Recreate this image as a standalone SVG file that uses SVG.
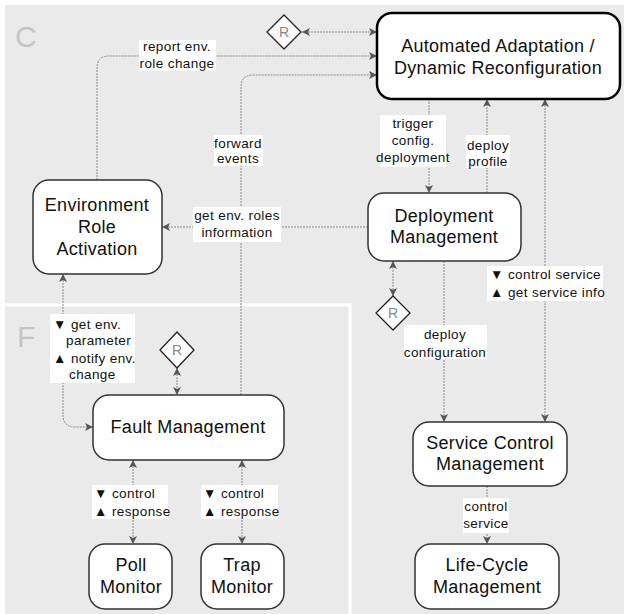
<svg xmlns="http://www.w3.org/2000/svg" width="624" height="614" viewBox="0 0 624 614">
<style>
.node rect{fill:#fff;stroke:#333;stroke-width:1.5}
.node text{font-family:"Liberation Sans",Arial,sans-serif;font-size:18px;fill:#111;text-anchor:middle;letter-spacing:0.3px}
.dia polygon{fill:#fff;stroke:#222;stroke-width:1.3}
.dia text{font-family:"Liberation Sans",Arial,sans-serif;font-size:14px;fill:#888;text-anchor:middle}
.conn path{fill:none;stroke:#8a8a8a;stroke-width:1;stroke-dasharray:2 1}
.lbl rect{fill:#fff}
.lbl text{font-family:"Liberation Sans",Arial,sans-serif;font-size:13.5px;fill:#111;letter-spacing:0.4px}
.c{text-anchor:middle}
.zone{font-family:"Liberation Sans",Arial,sans-serif;font-size:30px;fill:#c4c4c4}
</style>
<defs>
<marker id="ah" markerWidth="9" markerHeight="9" refX="8" refY="4" orient="auto-start-reverse" markerUnits="userSpaceOnUse">
<path d="M0,0 L8,4 L0,8 L2,4 z" fill="#555"/>
</marker>
</defs>
<rect x="5" y="5" width="619" height="609" fill="#eaeaea"/>
<path d="M5,305 H350 V614" fill="none" stroke="#fff" stroke-width="3"/>
<text class="zone" x="15" y="47">C</text>
<text class="zone" x="17" y="347">F</text>

<g id="connectors" class="conn">
<path d="M302,32 H377" marker-start="url(#ah)" marker-end="url(#ah)"/>
<path d="M97,180 V68 Q97,56 109,56 H377" marker-end="url(#ah)"/>
<path d="M241,395 V87 Q241,75 253,75 H377" marker-end="url(#ah)"/>
<path d="M429,99 V193" marker-end="url(#ah)"/>
<path d="M487,193 V99" marker-end="url(#ah)"/>
<path d="M545,99 V422" marker-start="url(#ah)" marker-end="url(#ah)"/>
<path d="M368,227 H162" marker-end="url(#ah)"/>
<path d="M393,261 V296" marker-start="url(#ah)" marker-end="url(#ah)"/>
<path d="M444,261 V422" marker-end="url(#ah)"/>
<path d="M487,486 V544" marker-end="url(#ah)"/>
<path d="M63,274 V415 Q63,427 75,427 H93" marker-start="url(#ah)" marker-end="url(#ah)"/>
<path d="M177,368 V395" marker-start="url(#ah)" marker-end="url(#ah)"/>
<path d="M133,460 V544" marker-start="url(#ah)" marker-end="url(#ah)"/>
<path d="M242,460 V544" marker-start="url(#ah)" marker-end="url(#ah)"/>
</g>

<g id="labels" class="lbl">
<rect x="139" y="40" width="77" height="31"/>
<text class="c" x="177" y="51">report env.</text>
<text class="c" x="177" y="68">role change</text>
<rect x="214" y="135" width="49" height="31"/>
<text class="c" x="238" y="148">forward</text>
<text class="c" x="238" y="163">events</text>
<rect x="380" y="115" width="66" height="52"/>
<text class="c" x="413" y="128">trigger</text>
<text class="c" x="413" y="145">config.</text>
<text class="c" x="413" y="162">deployment</text>
<rect x="466" y="135" width="44" height="33"/>
<text class="c" x="488" y="150">deploy</text>
<text class="c" x="488" y="166">profile</text>
<rect x="193" y="207" width="88" height="35"/>
<text class="c" x="237" y="220">get env. roles</text>
<text class="c" x="237" y="237">information</text>
<rect x="487" y="266" width="116" height="35"/>
<text x="490" y="279">▼ control service</text>
<text x="490" y="297">▲ get service info</text>
<rect x="404" y="325" width="83" height="34"/>
<text class="c" x="445" y="339">deploy</text>
<text class="c" x="445" y="357">configuration</text>
<rect x="50" y="314" width="85" height="69"/>
<text x="53" y="329">▼ get env.</text>
<text x="66" y="345">parameter</text>
<text x="53" y="363">▲ notify env.</text>
<text x="69" y="379">change</text>
<rect x="463" y="498" width="46" height="35"/>
<text class="c" x="486" y="511">control</text>
<text class="c" x="486" y="528">service</text>
<rect x="92" y="485" width="76" height="34"/>
<text x="94" y="498">▼ control</text>
<text x="94" y="516">▲ response</text>
<rect x="201" y="485" width="77" height="34"/>
<text x="203" y="498">▼ control</text>
<text x="203" y="516">▲ response</text>
</g>

<g id="aa" class="node">
<rect x="377" y="13" width="243" height="86" rx="15" style="stroke:#000;stroke-width:2.5"/>
<text x="498" y="52">Automated Adaptation /</text>
<text x="498" y="74">Dynamic Reconfiguration</text>
</g>
<g id="era" class="node">
<rect x="33" y="180" width="129" height="94" rx="16"/>
<text x="97" y="211">Environment</text>
<text x="97" y="233">Role</text>
<text x="97" y="255">Activation</text>
</g>
<g id="dm" class="node">
<rect x="368" y="193" width="153" height="68" rx="16"/>
<text x="444" y="222">Deployment</text>
<text x="444" y="243">Management</text>
</g>
<g id="fm" class="node">
<rect x="93" y="395" width="191" height="65" rx="16"/>
<text x="188" y="433">Fault Management</text>
</g>
<g id="poll" class="node">
<rect x="89" y="544" width="83" height="65" rx="16"/>
<text x="131" y="571">Poll</text>
<text x="131" y="593">Monitor</text>
</g>
<g id="trap" class="node">
<rect x="201" y="544" width="83" height="65" rx="16"/>
<text x="242" y="571">Trap</text>
<text x="242" y="593">Monitor</text>
</g>
<g id="scm" class="node">
<rect x="413" y="422" width="154" height="64" rx="16"/>
<text x="490" y="449">Service Control</text>
<text x="490" y="470">Management</text>
</g>
<g id="lcm" class="node">
<rect x="415" y="544" width="144" height="65" rx="16"/>
<text x="487" y="571">Life-Cycle</text>
<text x="487" y="593">Management</text>
</g>

<g id="r1" class="dia">
<polygon points="284,15 301,32 284,49 267,32"/>
<text x="284" y="37">R</text>
</g>
<g id="r2" class="dia">
<polygon points="393,296 410,313 393,330 376,313"/>
<text x="393" y="318">R</text>
</g>
<g id="r3" class="dia">
<polygon points="177,332 194,350 177,368 160,350"/>
<text x="177" y="355">R</text>
</g>
</svg>
